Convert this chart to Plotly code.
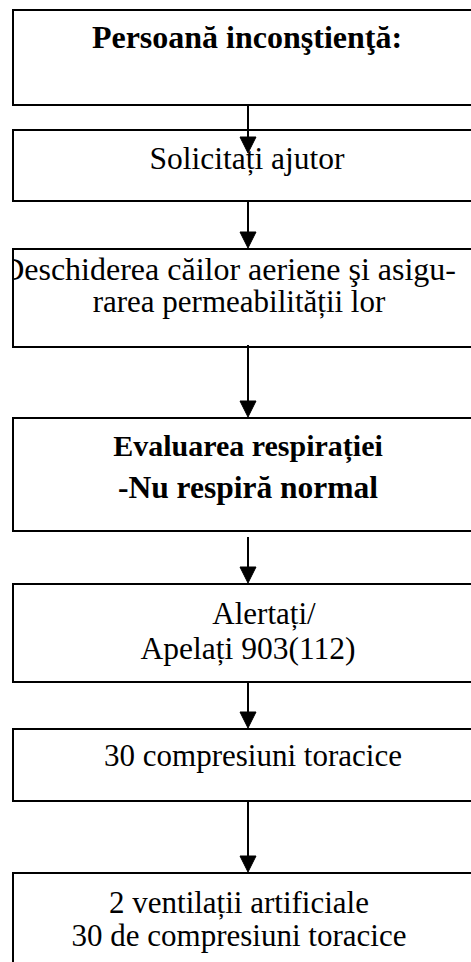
import plotly.graph_objects as go

# ---- data: flowchart step texts (one entry per line) ----
step_lines = [
    ["Persoană inconştienţă:"],
    ["Solicitați ajutor"],
    ["Deschiderea căilor aeriene şi asigu-", "rarea permeabilității lor"],
    ["Evaluarea respirației", "-Nu respiră normal"],
    ["Alertați/", "Apelați 903(112)"],
    ["30 compresiuni toracice"],
    ["2 ventilații artificiale", "30 de compresiuni toracice"],
]
step_bold = [True, False, False, True, False, False, False]

# ---- layout (pixel-like coordinates) ----
W, H = 471, 962
box_left, box_right = 13, 483
box_tops = [10, 130, 249, 418, 584, 729, 873]
box_bottoms = [105, 201, 347, 531, 682, 801, 980]
arrow_x = 248
arrow_from = [105, 201, 345, 537, 682, 801]
arrow_tip = [153, 248, 417, 583, 728, 872]
head_w, head_h = 16, 16
# (x, y, anchor, font size) per text line
line_pos = [
    [(247, 40, "c", 32)],
    [(247, 161, "c", 31.5)],
    [(456, 272, "r", 32), (239, 304, "c", 31)],
    [(248, 448, "c", 30), (248, 490, "c", 31.5)],
    [(264, 616, "c", 31), (248, 651, "c", 31.5)],
    [(253, 758, "c", 31)],
    [(239, 905, "c", 31), (239, 938, "c", 31)],
]
font_family = "Liberation Serif, Times New Roman, serif"

fig = go.Figure()
shapes = []
for t, b in zip(box_tops, box_bottoms):
    shapes.append(dict(type="rect", xref="x", yref="y", x0=box_left, x1=box_right,
                       y0=t, y1=b, line=dict(color="black", width=2),
                       fillcolor="rgba(0,0,0,0)", layer="above"))
for y0, y1 in zip(arrow_from, arrow_tip):
    shapes.append(dict(type="line", xref="x", yref="y", x0=arrow_x, x1=arrow_x,
                       y0=y0, y1=y1 - head_h + 2, line=dict(color="black", width=2),
                       layer="above"))
    path = (f"M {arrow_x - head_w/2} {y1 - head_h} L {arrow_x + head_w/2} {y1 - head_h} "
            f"L {arrow_x} {y1} Z")
    shapes.append(dict(type="path", xref="x", yref="y", path=path,
                       fillcolor="black", line=dict(color="black", width=1),
                       layer="above"))

for lines, bold, poss in zip(step_lines, step_bold, line_pos):
    for txt, (x, y, anc, fs) in zip(lines, poss):
        fig.add_trace(go.Scatter(
            x=[x], y=[y], mode="text",
            text=[f"<b>{txt}</b>" if bold else txt],
            textposition="middle left" if anc == "r" else "middle center",
            textfont=dict(family=font_family, size=fs, color="black"),
            cliponaxis=True, hoverinfo="skip", showlegend=False))

fig.update_layout(
    width=W, height=H,
    margin=dict(l=12, r=0, t=0, b=0),
    paper_bgcolor="white", plot_bgcolor="white",
    shapes=shapes,
    xaxis=dict(range=[12, W], visible=False, fixedrange=True),
    yaxis=dict(range=[H, 0], visible=False, fixedrange=True),
    showlegend=False,
)
fig.write_html("out.html", config={"displayModeBar": False},
               post_script="document.body.style.margin='0px';document.body.style.overflow='hidden';")
